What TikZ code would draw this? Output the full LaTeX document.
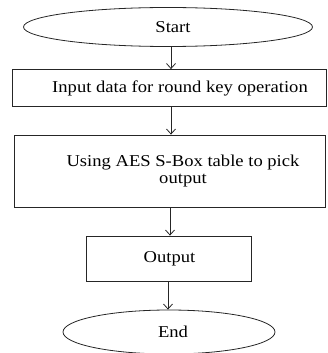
\documentclass[tikz,border=0pt]{standalone}
\usepackage{fontspec}
\setmainfont{Liberation Serif}[FakeStretch=1.12]
\usetikzlibrary{shapes.geometric,arrows.meta}
\begin{document}
\begin{tikzpicture}[x=1pt,y=-1pt,
  every node/.style={font=\fontsize{16.6}{16.5}\selectfont, text=black, inner sep=0pt},
  term/.style={draw=black!85, line width=0.8pt, ellipse},
  procbox/.style={draw=black!85, line width=0.8pt, rectangle, align=center},
  flow/.style={draw=black!85, line width=0.8pt, -{Straight Barb[length=5pt,width=9pt]}}]
\useasboundingbox (0,0) rectangle (327,353);
\node[term, minimum width=289pt, minimum height=39pt] (start) at (168,27) {\hspace*{10pt}Start};
\node[procbox, minimum width=314pt, minimum height=37pt] (input) at (169,88) {\hspace*{22pt}Input data for round key operation};
\node[procbox, minimum width=311pt, minimum height=72pt] (sbox) at (170,171) {\hspace*{26pt}Using AES S-Box table to pick\\\hspace*{26pt}output};
\node[procbox, minimum width=165pt, minimum height=45pt] (out) at (168.5,258.5) {\hspace*{2pt}Output};
\node[term, minimum width=212pt, minimum height=44pt] (end) at (169,332) {\hspace*{8pt}End};
\draw[flow] (start.south -| 171,0) -- (input.north -| 171,0);
\draw[flow] (input.south -| 171,0) -- (sbox.north -| 171,0);
\draw[flow] (sbox.south -| 170,0) -- (out.north -| 170,0);
\draw[flow] (out.south -| 168,0) -- (end.north -| 168,0);
\end{tikzpicture}
\end{document}
